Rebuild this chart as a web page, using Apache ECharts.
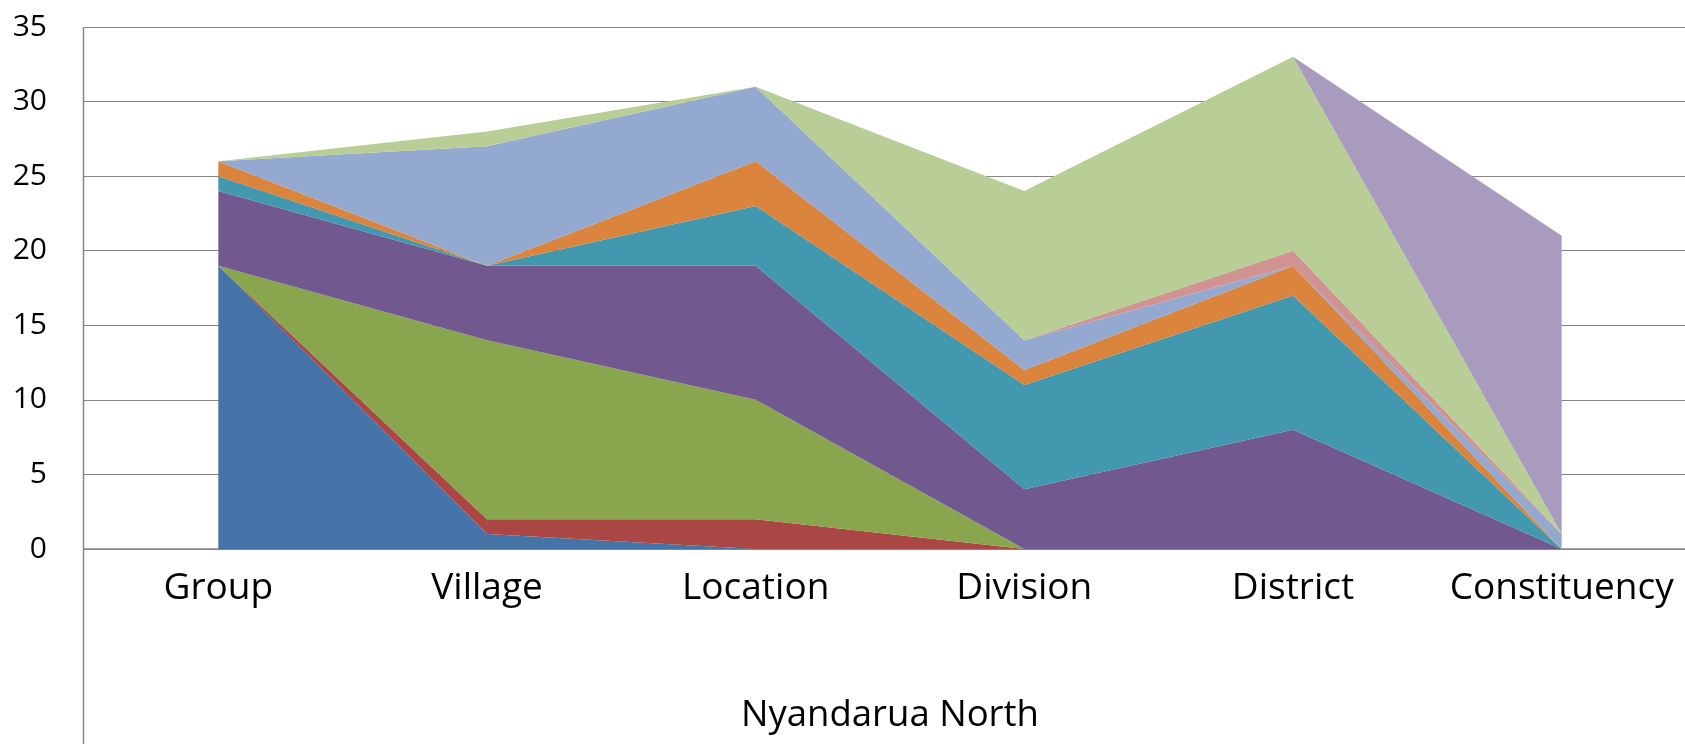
<!DOCTYPE html>
<html>
<head>
<meta charset="utf-8">
<script src="https://cdn.jsdelivr.net/npm/echarts@6/dist/echarts.min.js"></script>
<style>
html,body{margin:0;padding:0;background:#fff;overflow:hidden;width:1685px;height:744px;}
#chart{width:1700px;height:744px;}
</style>
</head>
<body>
<div id="chart"></div>
<script>
var categories = ['Group', 'Village', 'Location', 'Division', 'District', 'Constituency'];
var axisName = 'Nyandarua North';
var yTicks = [0, 5, 10, 15, 20, 25, 30, 35];

var s1 = [19, 1, 0, 0, 0, 0];
var s2 = [0, 1, 2, 0, 0, 0];
var s3 = [0, 12, 8, 0, 0, 0];
var s4 = [5, 5, 9, 4, 8, 0];
var s5 = [1, 0, 4, 7, 9, 0];
var s6 = [1, 0, 3, 1, 2, 0];
var s7 = [0, 8, 5, 2, 0, 1];
var s8 = [0, 0, 0, 0, 1, 0];
var s9 = [0, 1, 0, 10, 13, 0];
var s10 = [0, 0, 0, 0, 0, 20];

var seriesData = [s1, s2, s3, s4, s5, s6, s7, s8, s9, s10];
var colors = ['#4572A7', '#AA4643', '#89A54E', '#71588F', '#4198AF', '#DB843D', '#93A9CF', '#D19392', '#B9CD96', '#A99BBD'];

var G = { left: 84, right: 4, top: 27, bottom: 195 };
var H = 744;

var chart = echarts.init(document.getElementById('chart'), null, { renderer: 'canvas' });
var option = {
  animation: false,
  backgroundColor: '#ffffff',
  textStyle: { fontFamily: 'Open Sans' },
  grid: { left: G.left, right: G.right, top: G.top, bottom: G.bottom, containLabel: false },
  xAxis: {
    type: 'category',
    data: categories,
    boundaryGap: true,
    name: axisName,
    nameLocation: 'middle',
    nameGap: 148,
    nameTextStyle: { fontFamily: 'Open Sans', fontSize: 36.5, color: '#000' },
    axisLine: { show: true, lineStyle: { color: '#868686', width: 1.5 } },
    axisTick: { show: false },
    axisLabel: { fontFamily: 'Open Sans', fontSize: 37, color: '#000', margin: 21, interval: 0 },
    splitLine: { show: false }
  },
  yAxis: {
    type: 'value',
    min: yTicks[0],
    max: yTicks[yTicks.length - 1],
    interval: yTicks[1] - yTicks[0],
    axisLine: { show: false },
    axisTick: { show: false },
    axisLabel: { fontFamily: 'Open Sans', fontSize: 30, color: '#000', margin: 37 },
    splitLine: { show: true, lineStyle: { color: '#868686', width: 1.2 } }
  },
  graphic: [{
    type: 'line',
    shape: { x1: G.left - 0.5, y1: G.top, x2: G.left - 0.5, y2: H },
    style: { stroke: '#868686', lineWidth: 1.5 },
    z: 100
  }],
  series: seriesData.map(function (d, i) {
    return {
      name: 'Series' + (i + 1),
      type: 'line',
      stack: 'total',
      data: d,
      symbol: 'none',
      showSymbol: false,
      lineStyle: { width: 0 },
      areaStyle: { color: colors[i], opacity: 1 },
      itemStyle: { color: colors[i] },
      z: 2
    };
  })
};
chart.setOption(option);
</script>
</body>
</html>
